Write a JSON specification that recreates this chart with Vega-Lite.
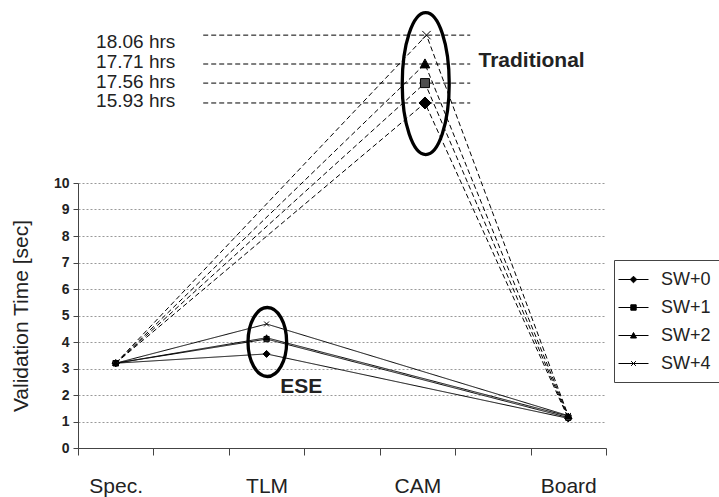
{
  "$schema": "https://vega.github.io/schema/vega-lite/v6.json",
  "width": 528,
  "height": 265,
  "autosize": "none",
  "padding": {"left": 78, "top": 183, "right": 113, "bottom": 49},
  "background": "white",
  "config": {
    "view": {"stroke": null},
    "font": "Liberation Sans",
    "axis": {"domainColor": "#444", "tickColor": "#444", "labelColor": "#222", "titleColor": "#222", "labelFont": "Liberation Sans", "titleFont": "Liberation Sans"}
  },
  "datasets": {
    "paths": [
      {"series": "SW+0", "path": "ESE", "stage": "Spec.", "pos": 0.5, "val": 3.2},
      {"series": "SW+0", "path": "ESE", "stage": "TLM", "pos": 2.5, "val": 3.55},
      {"series": "SW+0", "path": "ESE", "stage": "Board", "pos": 6.5, "val": 1.12},
      {"series": "SW+0", "path": "Traditional", "stage": "Spec.", "pos": 0.5, "val": 3.2},
      {"series": "SW+0", "path": "Traditional", "stage": "CAM", "pos": 4.6, "val": 13.02},
      {"series": "SW+0", "path": "Traditional", "stage": "Board", "pos": 6.5, "val": 1.12},
      {"series": "SW+1", "path": "ESE", "stage": "Spec.", "pos": 0.5, "val": 3.2},
      {"series": "SW+1", "path": "ESE", "stage": "TLM", "pos": 2.5, "val": 4.11},
      {"series": "SW+1", "path": "ESE", "stage": "Board", "pos": 6.5, "val": 1.15},
      {"series": "SW+1", "path": "Traditional", "stage": "Spec.", "pos": 0.5, "val": 3.2},
      {"series": "SW+1", "path": "Traditional", "stage": "CAM", "pos": 4.6, "val": 13.77},
      {"series": "SW+1", "path": "Traditional", "stage": "Board", "pos": 6.5, "val": 1.15},
      {"series": "SW+2", "path": "ESE", "stage": "Spec.", "pos": 0.5, "val": 3.2},
      {"series": "SW+2", "path": "ESE", "stage": "TLM", "pos": 2.5, "val": 4.16},
      {"series": "SW+2", "path": "ESE", "stage": "Board", "pos": 6.5, "val": 1.2},
      {"series": "SW+2", "path": "Traditional", "stage": "Spec.", "pos": 0.5, "val": 3.2},
      {"series": "SW+2", "path": "Traditional", "stage": "CAM", "pos": 4.6, "val": 14.49},
      {"series": "SW+2", "path": "Traditional", "stage": "Board", "pos": 6.5, "val": 1.2},
      {"series": "SW+4", "path": "ESE", "stage": "Spec.", "pos": 0.5, "val": 3.2},
      {"series": "SW+4", "path": "ESE", "stage": "TLM", "pos": 2.5, "val": 4.68},
      {"series": "SW+4", "path": "ESE", "stage": "Board", "pos": 6.5, "val": 1.22},
      {"series": "SW+4", "path": "Traditional", "stage": "Spec.", "pos": 0.5, "val": 3.2},
      {"series": "SW+4", "path": "Traditional", "stage": "CAM", "pos": 4.62, "val": 15.58},
      {"series": "SW+4", "path": "Traditional", "stage": "Board", "pos": 6.5, "val": 1.22}
    ],
    "leaders": [
      {"series": "SW+4", "pos": 1.66, "pos2": 5.2, "val": 15.58},
      {"series": "SW+2", "pos": 1.66, "pos2": 5.2, "val": 14.49},
      {"series": "SW+1", "pos": 1.66, "pos2": 5.2, "val": 13.77},
      {"series": "SW+0", "pos": 1.66, "pos2": 5.2, "val": 13.02}
    ],
    "hourlabels": [
      {"label": "18.06 hrs", "pos": 1.29, "val": 15.08},
      {"label": "17.71 hrs", "pos": 1.29, "val": 14.33},
      {"label": "17.56 hrs", "pos": 1.29, "val": 13.6},
      {"label": "15.93 hrs", "pos": 1.29, "val": 12.88}
    ],
    "notes": [
      {"label": "Traditional", "pos": 5.31, "val": 14.39},
      {"label": "ESE", "pos": 2.68, "val": 2.08}
    ],
    "rings": [
      {"ring": "Traditional", "pos": 4.61, "val": 13.75},
      {"ring": "ESE", "pos": 2.51, "val": 4.0}
    ]
  },
  "encoding": {
    "x": {
      "field": "pos", "type": "quantitative",
      "scale": {"domain": [0, 7], "nice": false, "zero": false},
      "axis": {
        "title": null, "values": [0, 1, 2, 3, 4, 5, 6, 7], "grid": false, "tickSize": 7,
        "labelExpr": "datum.value == 0 ? 'Spec.' : datum.value == 2 ? 'TLM' : datum.value == 4 ? 'CAM' : datum.value == 6 ? 'Board' : ''",
        "labelOffset": 37.7, "labelFlush": false, "labelOverlap": false, "labelBound": false,
        "labelFontSize": 21, "labelPadding": 20
      }
    },
    "y": {
      "field": "val", "type": "quantitative",
      "scale": {"domain": [0, 10], "nice": false, "zero": false},
      "axis": {
        "title": "Validation Time [sec]", "values": [0, 1, 2, 3, 4, 5, 6, 7, 8, 9, 10],
        "grid": true, "gridColor": "#999", "gridDash": [2, 2], "tickSize": 5,
        "labelFontSize": 14, "labelFontWeight": "bold", "labelPadding": 4,
        "titleFontSize": 21, "titleFontWeight": "normal", "titlePadding": 22
      }
    }
  },
  "layer": [
    {
      "data": {"name": "leaders"},
      "mark": {"type": "rule", "strokeDash": [5, 3], "color": "black", "strokeWidth": 1, "clip": false},
      "encoding": {"x2": {"field": "pos2"}}
    },
    {
      "data": {"name": "paths"},
      "mark": {"type": "line", "color": "black", "strokeWidth": 1, "clip": false},
      "encoding": {
        "detail": {"field": "series"},
        "strokeDash": {"field": "path", "type": "nominal", "scale": {"domain": ["ESE", "Traditional"], "range": [[1, 0], [5, 3]]}, "legend": null},
        "order": {"field": "pos", "type": "quantitative"}
      }
    },
    {
      "data": {"name": "paths"},
      "transform": [{"filter": "datum.stage != 'CAM'"}],
      "mark": {"type": "point", "filled": true, "stroke": "black", "strokeWidth": 1, "size": 49, "opacity": 1, "clip": false},
      "encoding": {
        "shape": {"field": "series", "type": "nominal", "scale": {"domain": ["SW+0", "SW+1", "SW+2", "SW+4"], "range": ["M0,-1L1,0L0,1L-1,0Z", "M-0.75,-0.75H0.75V0.75H-0.75Z", "M0,-0.85L0.8,0.65L-0.8,0.65Z", "M-0.7,-0.7L0.7,0.7M-0.7,0.7L0.7,-0.7"]}, "legend": null},
        "fill": {"field": "series", "type": "nominal", "scale": {"domain": ["SW+0", "SW+1", "SW+2", "SW+4"], "range": ["#000000", "#4d4d4d", "#000000", "#000000"]}, "legend": null}
      }
    },
    {
      "data": {"name": "paths"},
      "transform": [{"filter": "datum.stage == 'CAM'"}],
      "mark": {"type": "point", "filled": true, "stroke": "black", "strokeWidth": 1, "size": 144, "opacity": 1, "clip": false},
      "encoding": {
        "shape": {"field": "series", "type": "nominal", "scale": {"domain": ["SW+0", "SW+1", "SW+2", "SW+4"], "range": ["M0,-1L1,0L0,1L-1,0Z", "M-0.75,-0.75H0.75V0.75H-0.75Z", "M0,-0.85L0.8,0.65L-0.8,0.65Z", "M-0.7,-0.7L0.7,0.7M-0.7,0.7L0.7,-0.7"]}, "legend": null},
        "fill": {"field": "series", "type": "nominal", "scale": {"domain": ["SW+0", "SW+1", "SW+2", "SW+4"], "range": ["#000000", "#4d4d4d", "#000000", "#000000"]}, "legend": null}
      }
    },
    {
      "data": {"name": "hourlabels"},
      "mark": {"type": "text", "align": "right", "baseline": "alphabetic", "fontSize": 19, "color": "#222", "clip": false},
      "encoding": {"text": {"field": "label"}}
    },
    {
      "data": {"name": "notes"},
      "mark": {"type": "text", "align": "left", "baseline": "alphabetic", "fontSize": 21, "fontWeight": "bold", "color": "#222", "clip": false},
      "encoding": {"text": {"field": "label"}}
    },
    {
      "data": {"name": "rings"},
      "mark": {"type": "point", "filled": false, "stroke": "black", "strokeWidth": 3.3, "size": 20164, "opacity": 1, "clip": false},
      "encoding": {
        "shape": {"field": "ring", "type": "nominal", "scale": {"domain": ["Traditional", "ESE"], "range": ["M0,-1A0.331,1 0 1,1 0,1A0.331,1 0 1,1 0,-1Z", "M0,-0.486A0.272,0.486 0 1,1 0,0.486A0.272,0.486 0 1,1 0,-0.486Z"]}, "legend": null}
      }
    },
    {
      "data": {"name": "paths"},
      "transform": [{"filter": "datum.stage == 'Spec.' && datum.path == 'ESE'"}],
      "mark": {"type": "point", "filled": false, "fill": "black", "stroke": "black", "strokeWidth": 1, "opacity": 0, "clip": false},
      "encoding": {
        "shape": {
          "field": "series", "type": "nominal",
          "scale": {"domain": ["SW+0", "SW+1", "SW+2", "SW+4"], "range": ["M-1.5,0H1.5M0,-0.33L0.33,0L0,0.33L-0.33,0Z", "M-1.5,0H1.5M-0.27,-0.27H0.27V0.27H-0.27Z", "M-1.5,0H1.5M0,-0.3L0.3,0.25L-0.3,0.25Z", "M-1.5,0H1.5M-0.24,-0.24L0.24,0.24M-0.24,0.24L0.24,-0.24"]},
          "legend": {
            "title": null, "orient": "none", "legendX": 536, "legendY": 77,
            "symbolSize": 400, "symbolOpacity": 1, "symbolStrokeWidth": 1,
            "labelFontSize": 18, "labelFont": "Liberation Sans", "labelColor": "#222", "labelOffset": 17,
            "rowPadding": 8, "padding": 9, "strokeColor": "#444"
          }
        }
      }
    }
  ],
  "resolve": {"scale": {"shape": "independent"}}
}
